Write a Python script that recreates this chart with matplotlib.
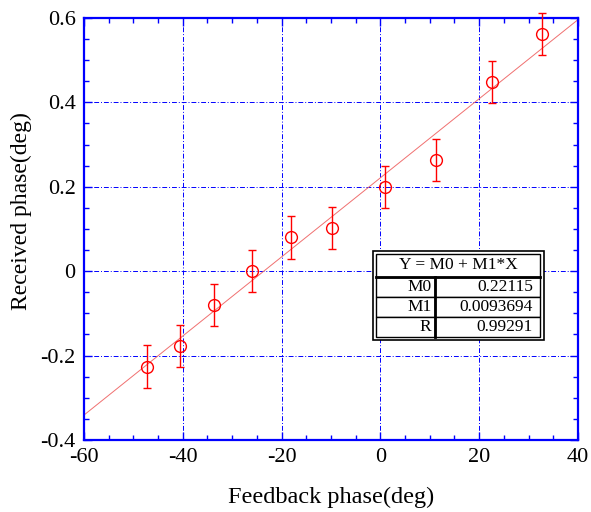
import numpy as np
import matplotlib
matplotlib.use("Agg")
import matplotlib.pyplot as plt
from matplotlib.patches import Rectangle
from matplotlib.ticker import MultipleLocator, FuncFormatter

plt.rcParams["font.family"] = ["Liberation Serif", "DejaVu Serif"]
plt.rcParams["axes.unicode_minus"] = False

# data
feedback = [-47.3, -40.6, -33.7, -26.0, -18.1, -9.8, 0.9, 11.3, 22.6, 32.7]
received = [-0.226, -0.177, -0.080, 0.000, 0.080, 0.103, 0.200, 0.264, 0.448, 0.561]
err = [0.05] * 10
m0, m1 = 0.22115, 0.0093694
fit_x = [-60, 40]
table_head = "Y = M0 + M1*X"
table_rows = [["M0", "0.22115"], ["M1", "0.0093694"], ["R", "0.99291"]]

fig = plt.figure(figsize=(5.91, 5.12), dpi=100)
ax = fig.add_axes([0.142, 0.1406, 0.836, 0.8244])

fx = np.array(fit_x, dtype=float)
ax.plot(fx, m0 + m1 * fx, color="#f07070", lw=0.7, zorder=2)
ax.errorbar(feedback, received, yerr=err, fmt="o", mfc="none", mec="red",
            ecolor="red", ms=8.5, mew=1.0, elinewidth=1.0, capsize=3, capthick=1.0,
            zorder=3, clip_on=False)

ax.set_xlim(-60, 40); ax.set_ylim(-0.4, 0.6)
ax.xaxis.set_major_locator(MultipleLocator(20)); ax.xaxis.set_minor_locator(MultipleLocator(5))
ax.yaxis.set_major_locator(MultipleLocator(0.2)); ax.yaxis.set_minor_locator(MultipleLocator(0.05))
ax.yaxis.set_major_formatter(FuncFormatter(lambda v, p: "0" if abs(v) < 1e-9 else f"{v:.1f}"))
ax.tick_params(which="both", direction="in", top=True, right=True, color="blue",
               labelsize=16, pad=6)
ax.tick_params(which="major", length=6, width=1)
ax.tick_params(which="minor", length=3.5, width=1)
for s in ax.spines.values():
    s.set_color("blue"); s.set_linewidth(1.6)
ax.grid(True, which="major", color="blue", ls=(0, (5, 2, 1, 2)), lw=0.7)

ax.set_xlabel("Feedback phase(deg)", fontsize=17.5, labelpad=14)
ax.set_ylabel("Received phase(deg)", fontsize=17)
ax.yaxis.set_label_coords(-0.105, 0.543)

# fit result table (double border)
X0, X1, Y0, Y1 = 0.585, 0.931, 0.237, 0.448
dx, dy = 0.007, 0.008
x0, x1, y0, y1 = X0 + dx, X1 - dx, Y0 + dy, Y1 - dy
hfrac = 0.27
ax.add_patch(Rectangle((X0, Y0), X1 - X0, Y1 - Y0, transform=ax.transAxes,
                       fc="white", ec="black", lw=1.2, zorder=4))
tab = ax.table(cellText=table_rows, cellLoc="right", colWidths=[0.36, 0.64],
               bbox=[x0, y0, x1 - x0, (y1 - y0) * (1 - hfrac)])
hdr = ax.table(cellText=[[table_head]], cellLoc="center",
               bbox=[x0, y0 + (y1 - y0) * (1 - hfrac), x1 - x0, (y1 - y0) * hfrac])
for t in (tab, hdr):
    t.auto_set_font_size(False)
    for (i, j), c in t.get_celld().items():
        c.set_facecolor("white")
        c.set_edgecolor("black")
        c.set_linewidth(1.0)
        c.get_text().set_fontsize(12.5)
        c.PAD = 0.07
    t.set_zorder(5)
ax.plot([x0 + 0.36 * (x1 - x0)] * 2, [y0, y0 + (y1 - y0) * (1 - hfrac)],
        transform=ax.transAxes, color="black", lw=2, zorder=6)
ax.plot([x0, x1], [y0 + (y1 - y0) * (1 - hfrac)] * 2,
        transform=ax.transAxes, color="black", lw=2, zorder=6)

fig.savefig("out.png", dpi=100)
